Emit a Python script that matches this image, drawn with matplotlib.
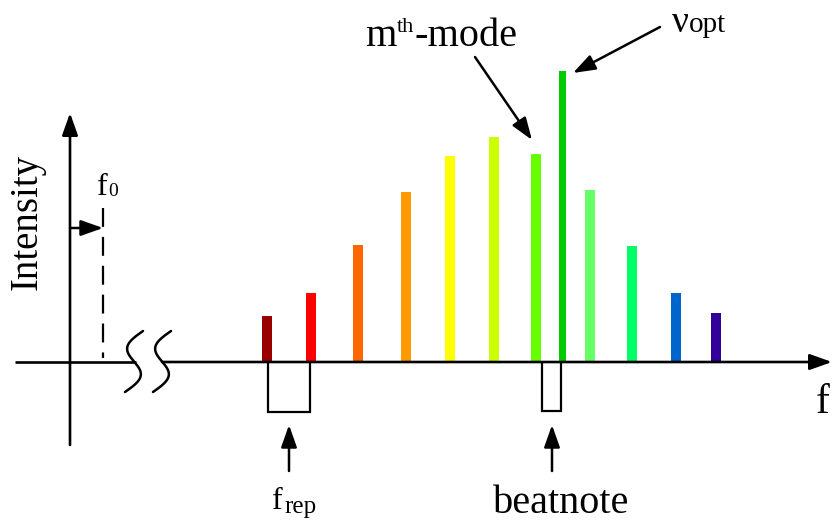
import numpy as np
import matplotlib
matplotlib.use("Agg")
import matplotlib.pyplot as plt

# Comb modes: frequency position, intensity above the f-axis, colour
mode_freq = [267, 311, 358, 406, 450, 494, 536, 562, 590, 632, 676, 716]
mode_intensity = [46, 69, 117, 170, 206, 225, 208, 291, 172, 116, 69, 49]
mode_colors = ["#990000", "#FF0000", "#FF6600", "#FF9900", "#FFFF00", "#CCFF00",
               "#66FF00", "#00CC00", "#66FF66", "#00FF66", "#0066CC", "#330099"]
mode_widths = [10, 10, 10, 10, 10, 10, 10, 7, 10, 10, 10, 10]

W, H = 832, 521
BASE = 362  # vertical position of the frequency axis


def Y(py):
    """Convert a vertical layout position (from top) into intensity units."""
    return BASE - py


plt.rcParams["font.family"] = ["Liberation Serif", "DejaVu Serif"]

fig = plt.figure(figsize=(W / 100, H / 100), dpi=100)
ax = fig.add_axes([0, 0, 1, 1])
ax.set_xlim(0, W)
ax.set_ylim(Y(H), Y(0))
ax.axis("off")

# comb lines
ax.bar(mode_freq, mode_intensity, width=mode_widths, bottom=0,
       color=mode_colors, edgecolor="none", zorder=2)

axis_kw = dict(color="black", lw=1.9, solid_capstyle="butt", zorder=3)
arrow_style = "-|>,head_length=0.45,head_width=0.16"


def arrow(x0, y0, x1, y1, lw=1.8, ms=30):
    ax.annotate("", xy=(x1, Y(y1)), xytext=(x0, Y(y0)),
                arrowprops=dict(arrowstyle=arrow_style, color="black", lw=lw,
                                mutation_scale=ms, shrinkA=0, shrinkB=0),
                annotation_clip=False, zorder=4)


# frequency axis (broken) and intensity axis
ax.plot([15, 136], [0, 0], **axis_kw)
arrow(162, BASE, W, BASE, lw=1.9)
arrow(70, 445, 70, 113, lw=1.9)

# axis break marks
t = np.linspace(0, 1, 200)
for cx in (134, 162):
    xs = cx - 11 * np.sin(2 * np.pi * t) + 9 * (1 - 2 * t)
    ys = 331 + 61 * t
    ax.plot(xs, Y(ys), color="black", lw=1.8, solid_capstyle="round", zorder=3)

# carrier-envelope offset
ax.plot([103, 103], [Y(208), Y(358)], color="black", lw=1.6,
        linestyle=(0, (8.5, 4.5)), zorder=3)
arrow(70, 228, 103, 228, lw=1.8)

# repetition-rate and beatnote brackets
br_kw = dict(color="black", lw=1.6, solid_joinstyle="miter", zorder=3)
ax.plot([268, 268, 310, 310], [Y(363), Y(412), Y(412), Y(363)], **br_kw)
ax.plot([542, 542, 561, 561], [Y(363), Y(411), Y(411), Y(363)], **br_kw)
arrow(289, 471, 289, 425, lw=1.8)
arrow(552, 471, 552, 425, lw=1.8)

# pointers to the m-th mode and to the optical frequency
arrow(475, 57, 532, 140, lw=1.8)
arrow(660, 27, 573, 73, lw=1.8)

# labels
ax.text(27, Y(222), "Intensity", rotation=90, ha="center", va="center",
        fontsize=28)
ax.text(97, Y(195), "f", ha="left", va="baseline", fontsize=23)
ax.text(108, Y(196), "0", ha="left", va="baseline", fontsize=14)
ax.text(272, Y(509), "f", ha="left", va="baseline", fontsize=23)
ax.text(284, Y(513), "rep", ha="left", va="baseline", fontsize=18)
ax.text(561, Y(513), "beatnote", ha="center", va="baseline", fontsize=29)
ax.text(816, Y(413), "f", ha="left", va="baseline", fontsize=30)
ax.text(365, Y(46), "m", ha="left", va="baseline", fontsize=29)
ax.text(397, Y(32), "th", ha="left", va="baseline", fontsize=16)
ax.text(415, Y(46), "-mode", ha="left", va="baseline", fontsize=29)
ax.text(672, Y(32), "ν", ha="left", va="baseline", fontsize=27)
ax.text(689, Y(32), "opt", ha="left", va="baseline", fontsize=21)

fig.savefig("out.png", dpi=100)
